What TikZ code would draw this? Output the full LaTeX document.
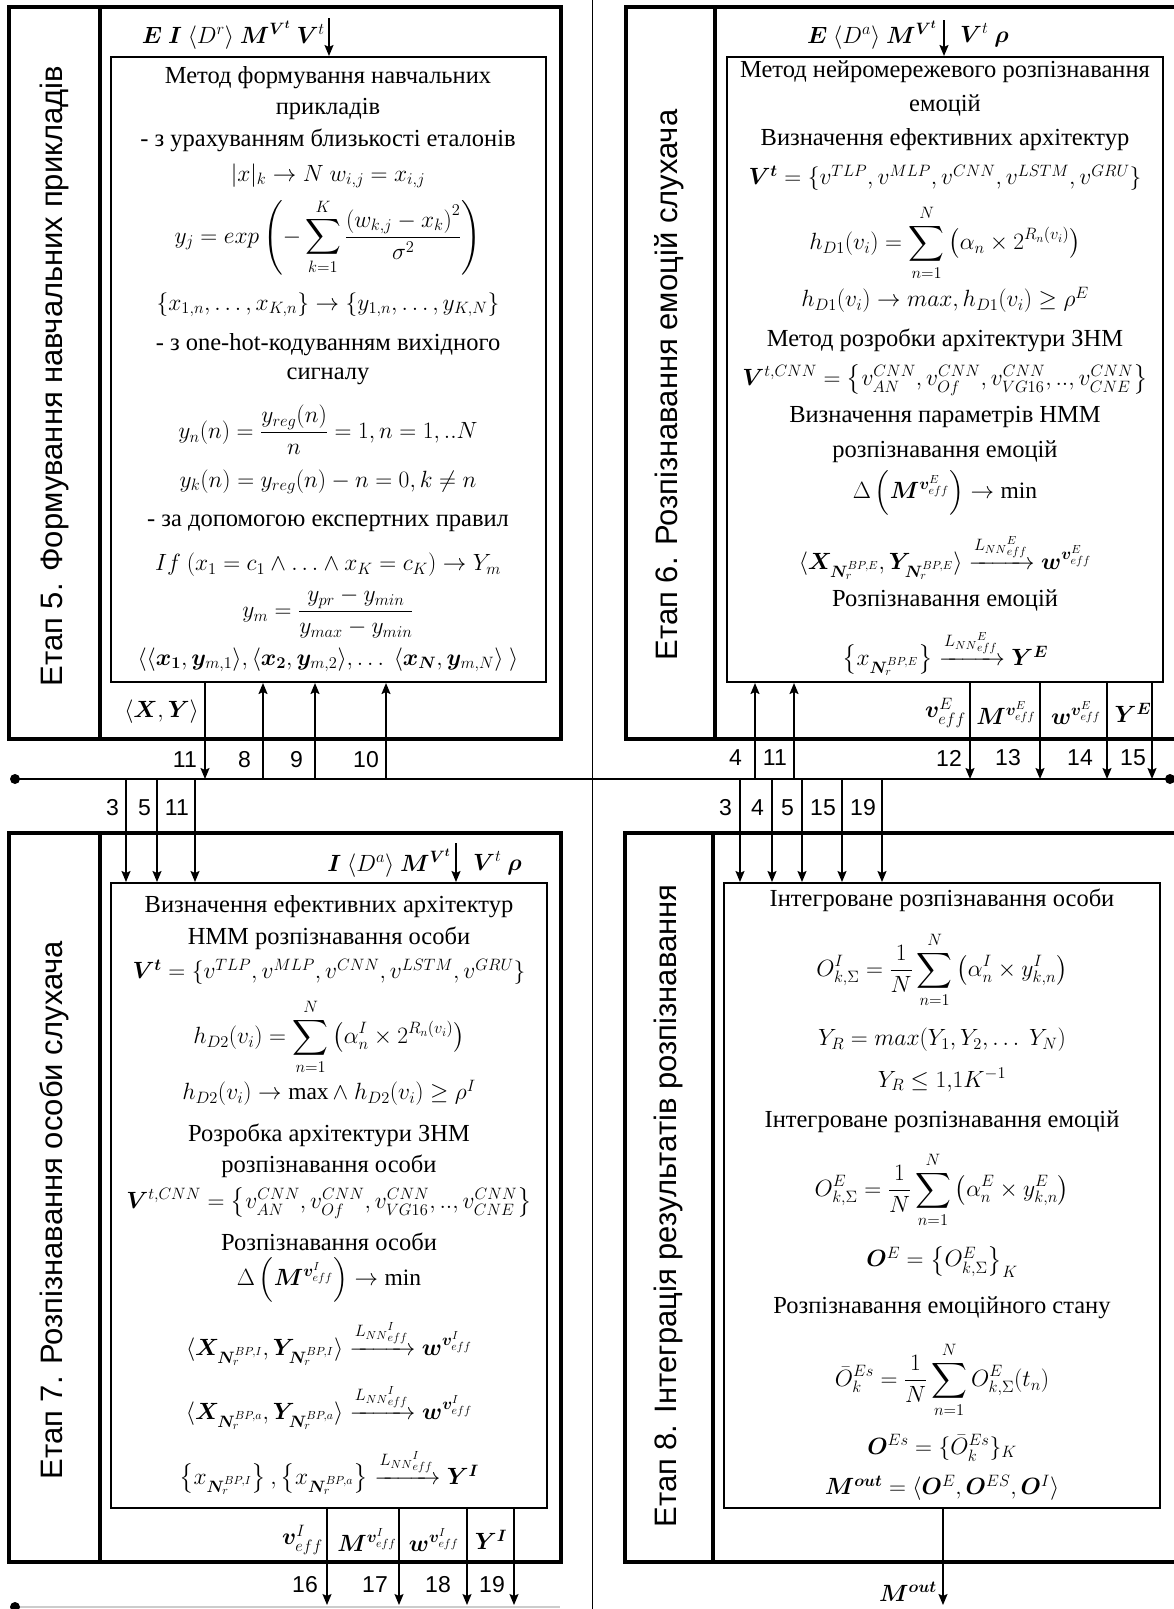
\documentclass[tikz,border=0pt]{standalone}
\usepackage{fix-cm}
\usepackage{amsmath}
\usepackage{fontspec}
\setmainfont{Liberation Serif}
\setsansfont{Liberation Sans}
\usepackage{bm}
\usetikzlibrary{arrows.meta}

\begin{document}
\begin{tikzpicture}[x=1pt, y=-1pt,
    stagebox/.style={line width=3.5pt},
    methodbox/.style={draw, line width=2pt, inner sep=0pt},
    txt/.style={font=\fontsize{23.5}{28}\selectfont, inner sep=0pt},
    words/.style={font=\fontsize{24.5}{28}\selectfont, inner sep=0pt},
    num/.style={font=\sffamily\fontsize{23}{23}\selectfont, inner sep=0pt, anchor=east},
    stagetitle/.style={font=\sffamily\fontsize{31}{31}\selectfont, rotate=90, inner sep=0pt},
    flow/.style={line width=1.6pt, -{Stealth[length=11pt,width=9pt,inset=2pt]}},
    bus/.style={line width=1.3pt}
]
    \useasboundingbox (0,0) rectangle (1174,1609);

    % Centre divider and bus lines
    \draw[line width=0.8pt] (592,0) -- (592,1609);
    \draw[bus] (15,779) -- (1170,779);
    \fill (15,779) circle[radius=5pt];
    \fill (1170,779) circle[radius=5pt];
    \draw[bus, gray!40] (15,1607) -- (560,1607);
    \fill (15,1607) circle[radius=5pt];

    % Stage 5 frame
    \draw[stagebox] (9,7) rectangle (561,739);
    \draw[stagebox] (100,7) -- (100,739);
    \node[stagetitle] (t5) at (54,376) {Етап 5. Формування навчальних прикладів};
    \node[methodbox, minimum width=435pt, minimum height=625pt] (m5) at (328.5,369.5) {};

    % Stage 5 method
    \node[words] (m5a) at (328,78) {Метод формування навчальних};
    \node[words] (m5b) at (328,109) {прикладів};
    \node[words] (m5c) at (328,140) {- з урахуванням близькості еталонів};
    \node[txt] (m5d) at (328,176) {$|x|_k \to N\ w_{i,j} = x_{i,j}$};
    \node[txt] (m5e) at (328,237) {$\displaystyle y_j = exp\left(-\sum_{k=1}^{K}\frac{\left(w_{k,j}-x_k\right)^2}{\sigma^2}\right)$};
    \node[txt] (m5f) at (328,305) {$\left\{x_{1,n},\ldots,x_{K,n}\right\} \to \left\{y_{1,n},\ldots,y_{K,N}\right\}$};
    \node[words] (m5g) at (328,345) {- з one-hot-кодуванням вихідного};
    \node[words] (m5h) at (328,376) {сигналу};
    \node[txt] (m5i) at (328,430) {$y_n(n) = \dfrac{y_{reg}(n)}{n} = 1, n = 1,..N$};
    \node[txt] (m5j) at (328,482) {$y_k(n) = y_{reg}(n) - n = 0, k \neq n$};
    \node[words] (m5k) at (328,523) {- за допомогою експертних правил};
    \node[txt] (m5l) at (328,565) {$If\ (x_1 = c_1 \wedge \ldots \wedge x_K = c_K) \to Y_m$};
    \node[txt] (m5m) at (328,613) {$y_m = \dfrac{y_{pr}-y_{min}}{y_{max}-y_{min}}$};
    \node[txt] (m5n) at (328,660) {$\langle\langle \bm{x_1}, \bm{y}_{m,1}\rangle, \langle \bm{x_2}, \bm{y}_{m,2}\rangle, \ldots\ \langle \bm{x_N}, \bm{y}_{m,N}\rangle\ \rangle$};

    % Stage 5 inputs and outputs
    \coordinate (in5) at (329,18);
    \node[txt, anchor=east] (in5l) at (325,35) {$\bm{E}\ \bm{I}\ \langle D^r\rangle\ \bm{M}^{\bm{V}^{\bm{t}}}\ \bm{V}^t$};
    \draw[flow] (in5) -- (in5 |- m5.north);
    \coordinate (b5x) at (205,779);
    \coordinate (b5h) at (263,779);
    \coordinate (b5i) at (315,779);
    \coordinate (b5j) at (386,779);
    \draw[flow] (m5.south -| b5x) -- (b5x);
    \draw[flow] (b5h) -- (b5h |- m5.south);
    \draw[flow] (b5i) -- (b5i |- m5.south);
    \draw[flow] (b5j) -- (b5j |- m5.south);
    \node[txt, anchor=east] (o5) at (199,712) {$\langle \bm{X}, \bm{Y}\rangle$};
    \node[num] (n5a) at (197,760) {11};
    \node[num] (n5b) at (251,760) {8};
    \node[num] (n5c) at (303,760) {9};
    \node[num] (n5d) at (379,760) {10};

    % Stage 6 frame
    \draw[stagebox] (626,7) rectangle (1190,739);
    \draw[stagebox] (715,7) -- (715,739);
    \node[stagetitle] (t6) at (669,385) {Етап 6. Розпізнавання емоцій слухача};
    \node[methodbox, minimum width=436pt, minimum height=625pt] (m6) at (945,369.5) {};

    % Stage 6 method
    \node[words] (m6a) at (945,72) {Метод нейромережевого розпізнавання};
    \node[words] (m6b) at (945,105) {емоцій};
    \node[words] (m6c) at (945,140) {Визначення ефективних архітектур};
    \node[txt] (m6d) at (945,178) {$\bm{V^t} = \{v^{TLP}, v^{MLP}, v^{CNN}, v^{LSTM}, v^{GRU}\}$};
    \node[txt] (m6e) at (945,243) {$\displaystyle h_{D1}(v_i) = \sum_{n=1}^{N}\left(\alpha_n \times 2^{R_n(v_i)}\right)$};
    \node[txt] (m6f) at (945,300) {$h_{D1}(v_i) \to max, h_{D1}(v_i) \geq \rho^E$};
    \node[words] (m6g) at (945,340) {Метод розробки архітектури ЗНМ};
    \node[txt] (m6h) at (945,380) {$\bm{V}^{t,CNN} = \left\{v^{CNN}_{AN}, v^{CNN}_{Of}, v^{CNN}_{VG16}, .., v^{CNN}_{CNE}\right\}$};
    \node[words] (m6i) at (945,417) {Визначення параметрів НММ};
    \node[words] (m6j) at (945,452) {розпізнавання емоцій};
    \node[txt] (m6k) at (945,493) {$\Delta\left(\bm{M}^{\bm{v}^E_{eff}}\right) \to \min$};
    \node[txt] (m6l) at (945,557) {$\langle \bm{X}_{\bm{N}_r^{BP,E}}, \bm{Y}_{\bm{N}_r^{BP,E}}\rangle \xrightarrow{L_{NN}{}^{E}_{eff}} \bm{w}^{\bm{v}^E_{eff}}$};
    \node[words] (m6m) at (945,600) {Розпізнавання емоцій};
    \node[txt] (m6n) at (945,653) {$\left\{x_{\bm{N}_r^{BP,E}}\right\} \xrightarrow{L_{NN}{}^{E}_{eff}} \bm{Y^E}$};

    % Stage 6 inputs and outputs
    \coordinate (in6) at (944,20);
    \node[txt, anchor=east] (in6l) at (937,35) {$\bm{E}\ \langle D^a\rangle\ \bm{M}^{\bm{V}^{\bm{t}}}$};
    \node[txt, anchor=west] (in6r) at (960,35) {$\bm{V}^t\ \bm{\rho}$};
    \draw[flow] (in6) -- (in6 |- m6.north);
    \coordinate (b6d) at (755,779);
    \coordinate (b6k) at (794,779);
    \coordinate (b6l) at (970,779);
    \coordinate (b6m) at (1040,779);
    \coordinate (b6n) at (1107,779);
    \coordinate (b6o) at (1152,779);
    \draw[flow] (b6d) -- (b6d |- m6.south);
    \draw[flow] (b6k) -- (b6k |- m6.south);
    \draw[flow] (m6.south -| b6l) -- (b6l);
    \draw[flow] (m6.south -| b6m) -- (b6m);
    \draw[flow] (m6.south -| b6n) -- (b6n);
    \draw[flow] (m6.south -| b6o) -- (b6o);
    \node[txt, anchor=east] (o6a) at (966,713) {$\bm{v}^E_{eff}$};
    \node[txt] (o6b) at (1006,713) {$\bm{M}^{\bm{v}^E_{eff}}$};
    \node[txt] (o6c) at (1076,713) {$\bm{w}^{\bm{v}^E_{eff}}$};
    \node[txt] (o6d) at (1133,713) {$\bm{Y^E}$};
    \node[num] (n6a) at (742,758) {4};
    \node[num] (n6b) at (787,758) {11};
    \node[num] (n6c) at (962,758) {12};
    \node[num] (n6d) at (1021,758) {13};
    \node[num] (n6e) at (1093,758) {14};
    \node[num] (n6f) at (1146,758) {15};

    % Stage 7 frame
    \draw[stagebox] (9,833) rectangle (561,1562);
    \draw[stagebox] (100,833) -- (100,1562);
    \node[stagetitle] (t7) at (54,1210) {Етап 7. Розпізнавання особи слухача};
    \node[methodbox, minimum width=436pt, minimum height=625pt] (m7) at (329,1195.5) {};

    % Stage 7 method
    \node[words] (m7a) at (329,907) {Визначення ефективних архітектур};
    \node[words] (m7b) at (329,938) {НММ розпізнавання особи};
    \node[txt] (m7c) at (329,972) {$\bm{V^t} = \{v^{TLP}, v^{MLP}, v^{CNN}, v^{LSTM}, v^{GRU}\}$};
    \node[txt] (m7d) at (329,1037) {$\displaystyle h_{D2}(v_i) = \sum_{n=1}^{N}\left(\alpha^I_n \times 2^{R_n(v_i)}\right)$};
    \node[txt] (m7e) at (329,1093) {$h_{D2}(v_i) \to \max \wedge\ h_{D2}(v_i) \geq \rho^I$};
    \node[words] (m7f) at (329,1135) {Розробка архітектури ЗНМ};
    \node[words] (m7g) at (329,1166) {розпізнавання особи};
    \node[txt] (m7h) at (329,1203) {$\bm{V}^{t,CNN} = \left\{v^{CNN}_{AN}, v^{CNN}_{Of}, v^{CNN}_{VG16}, .., v^{CNN}_{CNE}\right\}$};
    \node[words] (m7i) at (329,1242) {Розпізнавання особи};
    \node[txt] (m7j) at (329,1280) {$\Delta\left(\bm{M}^{\bm{v}^I_{eff}}\right) \to \min$};
    \node[txt] (m7k) at (329,1343) {$\langle \bm{X}_{\bm{N}_r^{BP,I}}, \bm{Y}_{\bm{N}_r^{BP,I}}\rangle \xrightarrow{L_{NN}{}^{I}_{eff}} \bm{w}^{\bm{v}^I_{eff}}$};
    \node[txt] (m7l) at (329,1407) {$\langle \bm{X}_{\bm{N}_r^{BP,a}}, \bm{Y}_{\bm{N}_r^{BP,a}}\rangle \xrightarrow{L_{NN}{}^{I}_{eff}} \bm{w}^{\bm{v}^I_{eff}}$};
    \node[txt] (m7m) at (329,1472) {$\left\{x_{\bm{N}_r^{BP,I}}\right\}, \left\{x_{\bm{N}_r^{BP,a}}\right\} \xrightarrow{L_{NN}{}^{I}_{eff}} \bm{Y^I}$};

    % Stage 7 inputs and outputs
    \coordinate (b7c) at (126,779);
    \coordinate (b7e) at (157,779);
    \coordinate (b7k) at (195,779);
    \draw[flow] (b7c) -- (b7c |- m7.north);
    \draw[flow] (b7e) -- (b7e |- m7.north);
    \draw[flow] (b7k) -- (b7k |- m7.north);
    \node[num] (n7a) at (119,808) {3};
    \node[num] (n7b) at (151,808) {5};
    \node[num] (n7c) at (189,808) {11};
    \coordinate (in7) at (456,843);
    \node[txt, anchor=east] (in7l) at (451,863) {$\bm{I}\ \langle D^a\rangle\ \bm{M}^{\bm{V}^{\bm{t}}}$};
    \node[txt, anchor=west] (in7r) at (473,863) {$\bm{V}^t\ \bm{\rho}$};
    \draw[flow] (in7) -- (in7 |- m7.north);
    \coordinate (e7p) at (327,1605);
    \coordinate (e7q) at (399,1605);
    \coordinate (e7r) at (467,1605);
    \coordinate (e7s) at (514,1605);
    \draw[flow] (m7.south -| e7p) -- (e7p);
    \draw[flow] (m7.south -| e7q) -- (e7q);
    \draw[flow] (m7.south -| e7r) -- (e7r);
    \draw[flow] (m7.south -| e7s) -- (e7s);
    \node[txt, anchor=east] (o7a) at (323,1540) {$\bm{v}^I_{eff}$};
    \node[txt] (o7b) at (367,1540) {$\bm{M}^{\bm{v}^I_{eff}}$};
    \node[txt] (o7c) at (434,1540) {$\bm{w}^{\bm{v}^I_{eff}}$};
    \node[txt] (o7d) at (491,1540) {$\bm{Y^I}$};
    \node[num] (n7d) at (318,1585) {16};
    \node[num] (n7e) at (388,1585) {17};
    \node[num] (n7f) at (451,1585) {18};
    \node[num] (n7g) at (505,1585) {19};

    % Stage 8 frame
    \draw[stagebox] (625,833) rectangle (1190,1562);
    \draw[stagebox] (713,833) -- (713,1562);
    \node[stagetitle] (t8) at (668,1206) {Етап 8. Інтеграція результатів розпізнавання};
    \node[methodbox, minimum width=436pt, minimum height=625pt] (m8) at (942,1195.5) {};

    % Stage 8 method
    \node[words] (m8a) at (942,900) {Інтегроване розпізнавання особи};
    \node[txt] (m8b) at (942,970) {$\displaystyle O^I_{k,\Sigma} = \frac{1}{N}\sum_{n=1}^{N}\left(\alpha^I_n \times y^I_{k,n}\right)$};
    \node[txt] (m8c) at (942,1040) {$Y_R = max(Y_1, Y_2, \ldots\ Y_N)$};
    \node[txt] (m8d) at (942,1080) {$Y_R \leq 1{,}1K^{-1}$};
    \node[words] (m8e) at (942,1122) {Інтегроване розпізнавання емоцій};
    \node[txt] (m8f) at (942,1190) {$\displaystyle O^E_{k,\Sigma} = \frac{1}{N}\sum_{n=1}^{N}\left(\alpha^E_n \times y^E_{k,n}\right)$};
    \node[txt] (m8g) at (942,1262) {$\bm{O}^E = \left\{O^E_{k,\Sigma}\right\}_K$};
    \node[words] (m8h) at (942,1308) {Розпізнавання емоційного стану};
    \node[txt] (m8i) at (942,1380) {$\displaystyle \bar{O}^{Es}_k = \frac{1}{N}\sum_{n=1}^{N} O^E_{k,\Sigma}(t_n)$};
    \node[txt] (m8j) at (942,1448) {$\bm{O}^{Es} = \{\bar{O}^{Es}_k\}_K$};
    \node[txt] (m8k) at (942,1488) {$\bm{M^{out}} = \langle \bm{O}^E, \bm{O}^{ES}, \bm{O}^I\rangle$};

    % Stage 8 inputs and outputs
    \coordinate (b8c) at (740,779);
    \coordinate (b8d) at (772,779);
    \coordinate (b8e) at (802,779);
    \coordinate (b8o) at (842,779);
    \coordinate (b8s) at (882,779);
    \draw[flow] (b8c) -- (b8c |- m8.north);
    \draw[flow] (b8d) -- (b8d |- m8.north);
    \draw[flow] (b8e) -- (b8e |- m8.north);
    \draw[flow] (b8o) -- (b8o |- m8.north);
    \draw[flow] (b8s) -- (b8s |- m8.north);
    \node[num] (n8a) at (732,808) {3};
    \node[num] (n8b) at (764,808) {4};
    \node[num] (n8c) at (794,808) {5};
    \node[num] (n8d) at (836,808) {15};
    \node[num] (n8e) at (876,808) {19};
    \coordinate (e8) at (943,1605);
    \draw[flow] (m8.south -| e8) -- (e8);
    \node[txt, anchor=east] (o8) at (937,1592) {$\bm{M^{out}}$};
\end{tikzpicture}
\end{document}
